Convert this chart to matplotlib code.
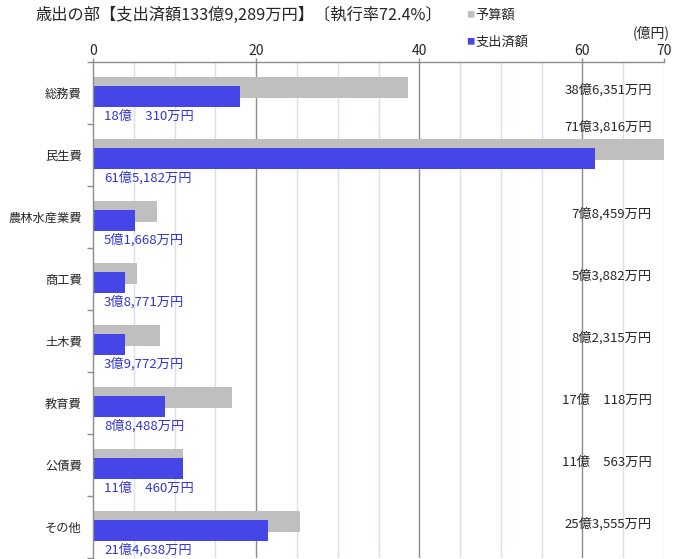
import matplotlib
matplotlib.use("Agg")
import matplotlib.pyplot as plt
import numpy as np

plt.rcParams['font.family'] = ['Noto Sans CJK JP', 'DejaVu Sans']

# ---- data ----
categories = ["総務費", "民生費", "農林水産業費", "商工費", "土木費", "教育費", "公債費", "その他"]
budget = [38.6351, 71.3816, 7.8459, 5.3882, 8.2315, 17.0118, 11.0563, 25.3555]   # 億円
spent = [18.0310, 61.5182, 5.1668, 3.8771, 3.9772, 8.8488, 11.0460, 21.4638]     # 億円
xticks = [0, 20, 40, 60, 70]
title = "歳出の部【支出済額133億9,289万円】〔執行率72.4%〕"
legend_labels = ["予算額", "支出済額"]
unit_label = "(億円)"

GRAY = "#BFBFBF"
BLUE = "#4646E8"
BLUE_TXT = "#3434D6"
TXT = "#262626"


def fmt(v):
    oku = int(v)
    man = int(round((v - oku) * 10000))
    if man >= 1000:
        return f"{oku}億{man:,}万円"
    return f"{oku}億\u3000{man}万円"


W, H = 682, 559
fig = plt.figure(figsize=(W / 100, H / 100), dpi=100)
left_px, right_px, top_px, bot_px = 93, 664, 62, 558
ax = fig.add_axes([left_px / W, 1 - bot_px / H, (right_px - left_px) / W, (bot_px - top_px) / H])

y = np.arange(len(categories))
ax.barh(y - 0.088, budget, height=0.335, color=GRAY, zorder=2)
ax.barh(y + 0.056, spent, height=0.335, color=BLUE, zorder=3)

ax.set_xlim(0, 70)
ax.set_ylim(len(categories) - 0.5, -0.5)

# gridlines
for v in np.arange(5, 71, 5):
    if v % 20 == 0:
        ax.axvline(v, color="#8C8C8C", lw=1.0, zorder=1)
    else:
        ax.axvline(v, color="#D5E1F0", lw=1.0, zorder=1)

# top axis
ax.xaxis.tick_top()
ax.set_xticks(xticks)
ax.set_xticklabels([str(t) for t in xticks])
ax.tick_params(axis="x", which="major", length=3, width=1, color="#8C8C8C", pad=0,
               labelsize=10, labelcolor=TXT)

ax.set_yticks(y)
ax.set_yticklabels(categories)
ax.set_yticks(np.arange(len(categories) + 1) - 0.5, minor=True)
ax.tick_params(axis="y", which="major", length=0, pad=8, labelsize=8.8, labelcolor=TXT)
ax.tick_params(axis="y", which="minor", length=4, width=1, color="#8C8C8C")

for s in ["right", "bottom"]:
    ax.spines[s].set_visible(False)
for s in ["top", "left"]:
    ax.spines[s].set_color("#8C8C8C")
    ax.spines[s].set_linewidth(1)
    ax.spines[s].set_zorder(4)

# value labels
for i in range(len(categories)):
    ax.text(1.35, i + 0.37, fmt(spent[i]), color=BLUE_TXT, fontsize=9.5,
            ha="left", va="center", zorder=5)
    by = i - 0.45 if budget[i] > 60 else i - 0.05
    ax.text(68.5, by, fmt(budget[i]), color=TXT, fontsize=9.5,
            ha="right", va="center", zorder=5)

# title, legend, unit
fig.text(35 / W, 1 - 15 / H, title, fontsize=11.7, color=TXT, ha="left", va="center")
fig.text(466 / W, 1 - 15 / H, "■", fontsize=6, color=GRAY, ha="left", va="center")
fig.text(475 / W, 1 - 15 / H, legend_labels[0], fontsize=9.5, color=TXT, ha="left", va="center")
fig.text(466 / W, 1 - 42 / H, "■", fontsize=6, color=BLUE, ha="left", va="center")
fig.text(475 / W, 1 - 42 / H, legend_labels[1], fontsize=9.5, color=TXT, ha="left", va="center")
fig.text(670 / W, 1 - 33 / H, unit_label, fontsize=10, color=TXT, ha="right", va="center")

fig.savefig("out.png", dpi=100)
